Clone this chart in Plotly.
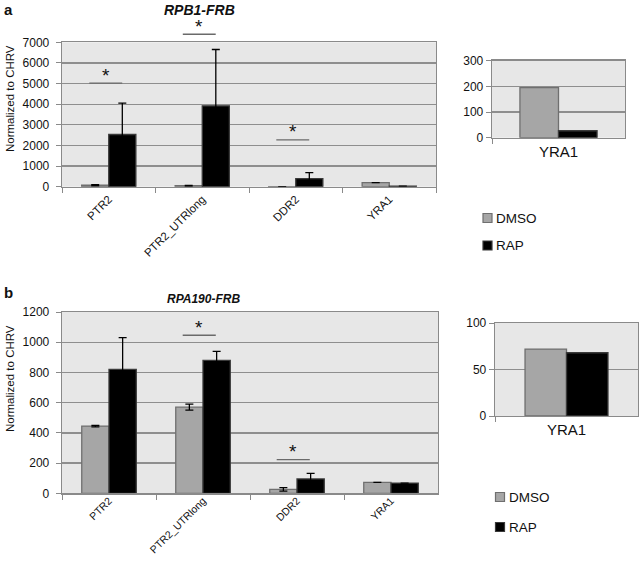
import plotly.graph_objects as go

# ---------------- data ----------------
categories = ["PTR2", "PTR2_UTRlong", "DDR2", "YRA1"]
inset_categories = ["YRA1"]
series_names = ["DMSO", "RAP"]

# panel a : RPB1-FRB
a_dmso = [70, 50, 5, 195]
a_dmso_err = [30, 15, 3, None]
a_rap = [2530, 3920, 390, 27]
a_rap_err = [1520, 2730, 290, None]
a_inset_dmso = [195]
a_inset_rap = [27]
a_yticks = [0, 1000, 2000, 3000, 4000, 5000, 6000, 7000]
a_inset_yticks = [0, 100, 200, 300]
a_sig = [("PTR2", 5020), ("PTR2_UTRlong", 7390), ("DDR2", 2270)]

# panel b : RPA190-FRB
b_dmso = [445, 570, 26, 72]
b_dmso_err = [5, 20, 11, None]
b_rap = [820, 880, 95, 68]
b_rap_err = [210, 60, 37, None]
b_inset_dmso = [72]
b_inset_rap = [68]
b_yticks = [0, 200, 400, 600, 800, 1000, 1200]
b_inset_yticks = [0, 50, 100]
b_sig = [("PTR2_UTRlong", 1046), ("DDR2", 223)]

# ---------------- style ----------------
FONT = "Arial, Liberation Sans, sans-serif"
DMSO_FILL, DMSO_LINE = "#a6a6a6", "#6f6f6f"
RAP_FILL, RAP_LINE = "#000000", "#3a3a3a"
GRID = "#8e8e8e"
BG = "#e7e7e7"
AXLINE = "#8a8a8a"

W, H = 640, 558


def px_x(p):
    return p / W


def px_y(p):
    return 1 - p / H


fig = go.Figure()


def add_bars(xa, ya, cats, dmso, rap, dmso_err, rap_err):
    fig.add_trace(go.Bar(
        x=cats, y=dmso, name=series_names[0], xaxis=xa, yaxis=ya,
        marker=dict(color=DMSO_FILL, line=dict(color=DMSO_LINE, width=1.3)),
        error_y=dict(type="data", array=dmso_err, visible=dmso_err is not None,
                     color="black", thickness=1.3, width=4),
        showlegend=False, hoverinfo="skip",
    ))
    fig.add_trace(go.Bar(
        x=cats, y=rap, name=series_names[1], xaxis=xa, yaxis=ya,
        marker=dict(color=RAP_FILL, line=dict(color=RAP_LINE, width=1.3)),
        error_y=dict(type="data", array=rap_err, visible=rap_err is not None,
                     color="black", thickness=1.3, width=4),
        showlegend=False, hoverinfo="skip",
    ))


add_bars("x", "y", categories, a_dmso, a_rap, a_dmso_err, a_rap_err)
add_bars("x2", "y2", inset_categories, a_inset_dmso, a_inset_rap, None, None)
add_bars("x3", "y3", categories, b_dmso, b_rap, b_dmso_err, b_rap_err)
add_bars("x4", "y4", inset_categories, b_inset_dmso, b_inset_rap, None, None)


def xaxis(domain, anchor, angle, size, standoff=0):
    return dict(domain=domain, anchor=anchor, type="category", automargin=False,
                showline=True, linecolor=AXLINE, linewidth=1.3, mirror=True,
                ticks="outside", tickson="boundaries", ticklen=5, tickcolor=AXLINE,
                ticklabelstandoff=standoff,
                tickangle=angle, tickfont=dict(family=FONT, size=size, color="#111"),
                showgrid=False, fixedrange=True)


def yaxis(domain, anchor, rng, ticks, standoff):
    return dict(domain=domain, anchor=anchor, range=rng, tickvals=ticks, automargin=False,
                showline=True, linecolor=AXLINE, linewidth=1.3, mirror=True,
                ticks="outside", ticklen=5, tickcolor=AXLINE, ticklabelstandoff=standoff,
                tickfont=dict(family=FONT, size=12, color="#111"),
                showgrid=True, gridcolor=GRID, gridwidth=1.3,
                zeroline=False, fixedrange=True)


dom_a = ([px_x(62), px_x(436)], [px_y(186.7), px_y(42.3)])
dom_ai = ([px_x(492), px_x(625)], [px_y(137.7), px_y(60.7)])
dom_b = ([px_x(62), px_x(438)], [px_y(493.3), px_y(312)])
dom_bi = ([px_x(495), px_x(638)], [px_y(416), px_y(323)])

fig.update_layout(
    width=W, height=H,
    margin=dict(l=0, r=0, t=0, b=0, pad=0),
    paper_bgcolor="white", plot_bgcolor=BG,
    barmode="group", bargap=0.42, bargroupgap=0,
    showlegend=False,
    font=dict(family=FONT, size=12, color="#111"),
    xaxis=xaxis(dom_a[0], "y", -45, 11.5),
    yaxis=yaxis(dom_a[1], "x", [0, 7000], a_yticks, 4),
    xaxis2=xaxis(dom_ai[0], "y2", 0, 15),
    yaxis2=yaxis(dom_ai[1], "x2", [0, 300], a_inset_yticks, 0),
    xaxis3=xaxis(dom_b[0], "y3", -45, 10.5, -4),
    yaxis3=yaxis(dom_b[1], "x3", [0, 1200], b_yticks, 4),
    xaxis4=xaxis(dom_bi[0], "y4", 0, 15),
    yaxis4=yaxis(dom_bi[1], "x4", [0, 100], b_inset_yticks, 0),
)

annotations = []
shapes = []


def add_sig(sig, xa, ya, ymax, ncat, halfw, shift):
    for cat, val in sig:
        i = categories.index(cat)
        xc = (i + 0.5) / ncat + shift
        yd = val / ymax
        shapes.append(dict(type="line", xref=xa + " domain", yref=ya + " domain",
                           x0=xc - halfw, x1=xc + halfw, y0=yd, y1=yd,
                           line=dict(color="#6a6a6a", width=1.3)))
        annotations.append(dict(text="*", xref=xa + " domain", yref=ya + " domain",
                                x=xc, y=yd, xanchor="center", yanchor="middle",
                                yshift=8, showarrow=False,
                                font=dict(family=FONT, size=19, color="#111")))


add_sig(a_sig, "x", "y", 7000, len(categories), 0.044, -0.008)
add_sig(b_sig, "x3", "y3", 1200, len(categories), 0.044, -0.01)


def add_legend(x_sq, y_rows):
    fills = [(DMSO_FILL, DMSO_LINE), (RAP_FILL, RAP_LINE)]
    for name, (fill, line), yc in zip(series_names, fills, y_rows):
        shapes.append(dict(type="rect", xref="paper", yref="paper",
                           x0=px_x(x_sq), x1=px_x(x_sq + 9),
                           y0=px_y(yc + 4.5), y1=px_y(yc - 4.5),
                           fillcolor=fill, line=dict(color=line, width=1.2)))
        annotations.append(dict(text=name, xref="paper", yref="paper",
                                x=px_x(x_sq + 11), y=px_y(yc), xanchor="left", yanchor="middle",
                                showarrow=False, font=dict(family=FONT, size=13.5, color="#111")))


add_legend(483, [218, 245.5])
add_legend(495.5, [497, 527])

# titles and panel labels
annotations += [
    dict(text="<b><i>RPB1-FRB</i></b>", xref="paper", yref="paper", x=px_x(199), y=px_y(10),
         xanchor="center", yanchor="middle", showarrow=False, font=dict(family=FONT, size=14)),
    dict(text="<b><i>RPA190-FRB</i></b>", xref="paper", yref="paper", x=px_x(203), y=px_y(299),
         xanchor="center", yanchor="middle", showarrow=False, font=dict(family=FONT, size=12)),
    dict(text="<b>a</b>", xref="paper", yref="paper", x=px_x(2), y=px_y(10),
         xanchor="left", yanchor="middle", showarrow=False, font=dict(family=FONT, size=15)),
    dict(text="<b>b</b>", xref="paper", yref="paper", x=px_x(2), y=px_y(292),
         xanchor="left", yanchor="middle", showarrow=False, font=dict(family=FONT, size=15)),
    dict(text="Normalized to CHRV", xref="paper", yref="paper", x=px_x(10), y=px_y(99),
         xanchor="center", yanchor="middle", textangle=-90, showarrow=False,
         font=dict(family=FONT, size=11.5)),
    dict(text="Normalized to CHRV", xref="paper", yref="paper", x=px_x(10), y=px_y(379),
         xanchor="center", yanchor="middle", textangle=-90, showarrow=False,
         font=dict(family=FONT, size=11.5)),
]

fig.update_layout(annotations=annotations, shapes=shapes)
fig.write_html("out.html", config={"displayModeBar": False, "staticPlot": True},
               post_script="document.body.style.margin='0';document.body.style.overflow='hidden';")
